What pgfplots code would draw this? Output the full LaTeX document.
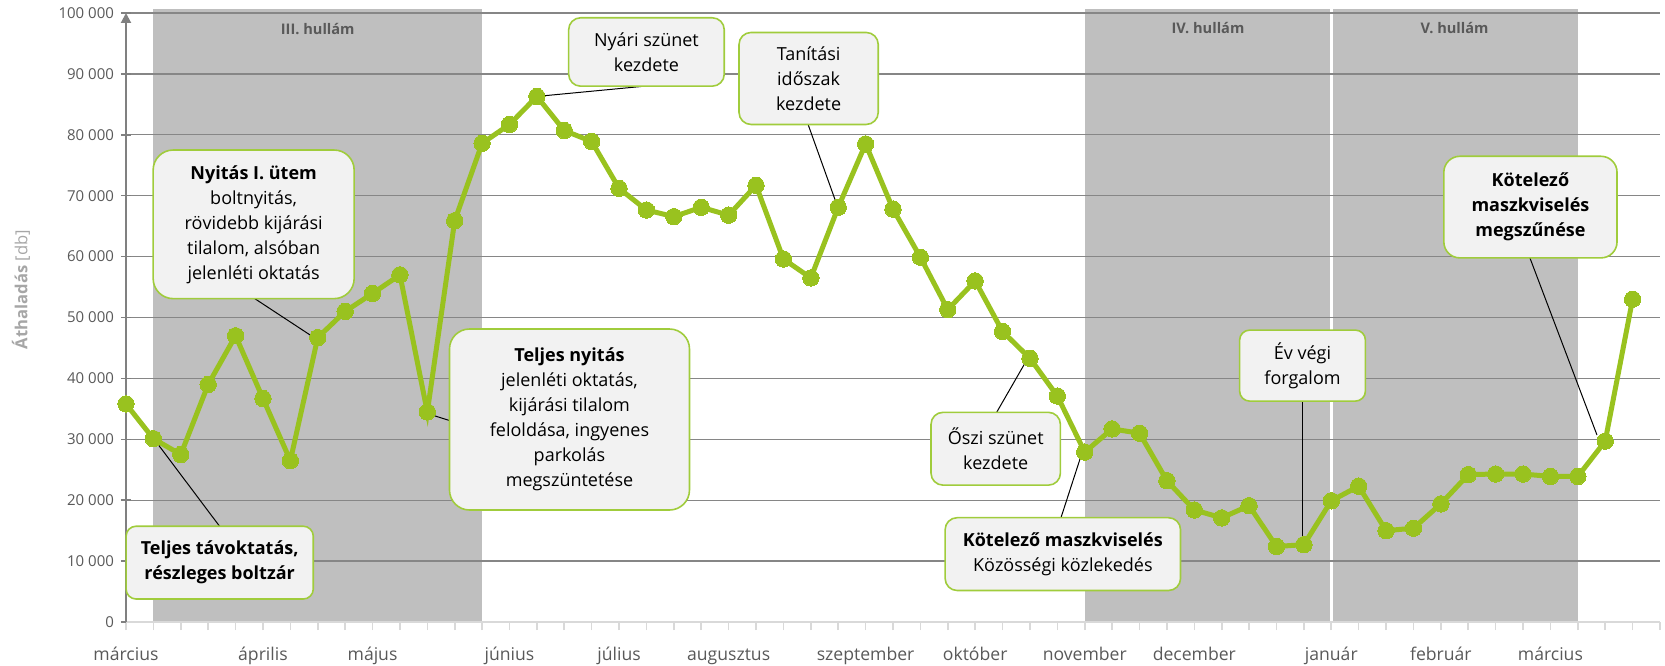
\documentclass[border=0pt]{standalone}
\usepackage{pgfplots}
\pgfplotsset{compat=1.18}
\usepackage{fontspec}
\setmainfont{Open Sans}
\usetikzlibrary{arrows.meta}
\definecolor{lgreen}{RGB}{153,194,31}
\definecolor{boxgreen}{RGB}{160,204,60}
\definecolor{shadecol}{RGB}{191,191,191}
\definecolor{boxfill}{RGB}{242,242,242}
\definecolor{gridcol}{RGB}{134,134,134}
\definecolor{yaxcol}{RGB}{128,128,128}
\definecolor{xaxcol}{RGB}{217,217,217}
\definecolor{ticklbl}{RGB}{89,89,89}
\definecolor{ylabcol}{RGB}{166,166,166}
\definecolor{wavecol}{RGB}{89,89,89}
\tikzset{callout/.style={draw=boxgreen, fill=boxfill, line width=0.8pt, align=center, inner sep=2pt,
  font=\fontsize{9}{12.5}\selectfont, text=black},
  pointer/.style={draw=black, line width=0.5pt}}
\begin{document}
\begin{tikzpicture}
\begin{axis}[
  set layers,
  scale only axis, width=767pt, height=304.5pt,
  xmin=0, xmax=56, ymin=0, ymax=100000,
  clip=false,
  axis lines=left,
  x axis line style={-, draw=xaxcol, line width=0.8pt},
  y axis line style={-{Triangle[width=5pt,length=5pt]}, draw=yaxcol, line width=1pt},
  xtick={0,5,9,14,18,22,27,31,35,39,44,48,52},
  xticklabels={március,április,május,június,július,augusztus,szeptember,október,november,december,január,február,március},
  minor xtick={0,1,...,56},
  xtick style={draw=none},
  minor x tick style={draw=xaxcol, line width=0.8pt},
  minor tick length=4pt,
  xtick align=outside,
  ytick={0,10000,...,100000},
  yticklabels={0,10 000,20 000,30 000,40 000,50 000,60 000,70 000,80 000,90 000,100 000},
  ytick align=center,
  major tick length=5pt,
  ytick style={draw=yaxcol, line width=0.8pt},
  ymajorgrids,
  grid style={draw=gridcol, line width=0.7pt},
  yticklabel style={font=\fontsize{7.5}{9}\selectfont, text=ticklbl},
  xticklabel style={font=\fontsize{8.8}{10}\selectfont, text=ticklbl, text height=6.8pt, text depth=2.2pt, yshift=-4pt},
]
\begin{pgfonlayer}{axis background}
\fill[shadecol] (axis cs:1,0) rectangle (axis cs:13,100700);
\fill[shadecol] (axis cs:35,0) rectangle (axis cs:53,100700);
\draw[white, line width=1.6pt] (axis cs:44,0) -- (axis cs:44,100700);
\end{pgfonlayer}
\node[font=\bfseries\fontsize{7.3}{9}\selectfont, text=wavecol] at (axis cs:7,97300) {III. hullám};
\node[font=\bfseries\fontsize{7.3}{9}\selectfont, text=wavecol] at (axis cs:39.5,97600) {IV. hullám};
\node[font=\bfseries\fontsize{7.3}{9}\selectfont, text=wavecol] at (axis cs:48.5,97600) {V. hullám};

\addplot[lgreen, line width=2.5pt, mark=*, mark size=4.1pt, mark options={draw=lgreen, fill=lgreen, line width=0pt}] coordinates {
(0,35800) (1,30100) (2,27500) (3,39000) (4,47000) (5,36700) (6,26500) (7,46700)
(8,51000) (9,53950) (10,57000) (11,34500) (12,65900) (13,78600) (14,81700) (15,86300)
(16,80700) (17,78900) (18,71200) (19,67650) (20,66560) (21,68100) (22,66800) (23,71700)
(24,59600) (25,56500) (26,68100) (27,78500) (28,67800) (29,59900) (30,51300) (31,56000)
(32,47700) (33,43300) (34,37100) (35,27900) (36,31700) (37,31000) (38,23200) (39,18400)
(40,17100) (41,19100) (42,12400) (43,12700) (44,19900) (45,22300) (46,15000) (47,15400)
(48,19400) (49,24200) (50,24300) (51,24300) (52,23900) (53,23900) (54,29700) (55,53000)
};

\draw[pointer] (axis cs:3.42,15700) -- (axis cs:1.08,29700);
\draw[pointer] (axis cs:4.70,53100) -- (axis cs:6.9,46600);
\draw[pointer] (axis cs:11.8,33100) -- (axis cs:10.95,34300);
\draw[pointer] (axis cs:18.97,88000) -- (axis cs:15.0,86300);
\draw[pointer] (axis cs:24.9,81700) -- (axis cs:26.0,67900);
\draw[pointer] (axis cs:31.78,34400) -- (axis cs:32.92,43300);
\draw[pointer] (axis cs:34.13,17100) -- (axis cs:34.88,27500);
\draw[pointer] (axis cs:42.96,36300) -- (axis cs:42.96,12700);
\draw[pointer] (axis cs:51.25,59800) -- (axis cs:53.7,30700);

\node[callout, minimum width=93.6pt, minimum height=36.4pt, rounded corners=5pt] at (axis cs:3.42,9750)
  {\textbf{Teljes távoktatás,}\\\textbf{részleges boltzár}};
\node[callout, minimum width=100.5pt, minimum height=74.3pt, rounded corners=10pt] at (axis cs:4.66,65300)
  {\textbf{Nyitás I. ütem}\\boltnyitás,\\rövidebb kijárási\\tilalom, alsóban\\jelenléti oktatás};
\node[callout, minimum width=120pt, minimum height=90.5pt, rounded corners=10pt] at (axis cs:16.19,33250)
  {\textbf{Teljes nyitás}\\jelenléti oktatás,\\kijárási tilalom\\feloldása, ingyenes\\parkolás\\megszüntetése};
\node[callout, minimum width=77.8pt, minimum height=34.2pt, rounded corners=6pt] at (axis cs:19.0,93600)
  {Nyári szünet\\kezdete};
\node[callout, minimum width=69.6pt, minimum height=46pt, rounded corners=6pt] at (axis cs:24.92,89250)
  {Tanítási\\időszak\\kezdete};
\node[callout, minimum width=64.7pt, minimum height=36.4pt, rounded corners=6pt] at (axis cs:31.75,28450)
  {Őszi szünet\\kezdete};
\node[callout, minimum width=117.7pt, minimum height=36.4pt, rounded corners=6pt] at (axis cs:34.2,11150)
  {\textbf{Kötelező maszkviselés}\\Közösségi közlekedés};
\node[callout, minimum width=62.9pt, minimum height=35.5pt, rounded corners=5pt] at (axis cs:42.95,42100)
  {Év végi\\forgalom};
\node[callout, minimum width=86.6pt, minimum height=50.8pt, rounded corners=8pt] at (axis cs:51.27,68130)
  {\textbf{Kötelező}\\\textbf{maszkviselés}\\\textbf{megszűnése}};

\node[rotate=90, font=\fontsize{8.3}{10}\selectfont, text=ylabcol] at ([xshift=-52.5pt]rel axis cs:0,0.546)
  {\textbf{Áthaladás} [db]};
\end{axis}
\pgfresetboundingbox
\path[use as bounding box] (-63pt,-21.5pt) rectangle (769.5pt,311pt);
\end{tikzpicture}
\end{document}
